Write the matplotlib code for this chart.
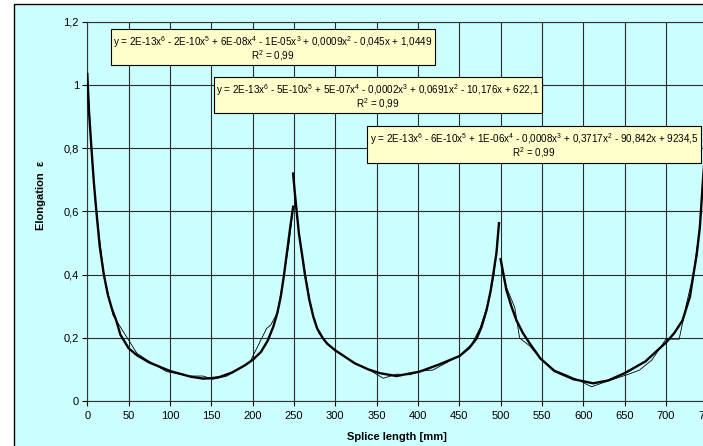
import matplotlib
matplotlib.use("Agg")
import matplotlib.pyplot as plt
from matplotlib.patches import Rectangle

plt.rcParams['font.family'] = ['Liberation Sans', 'DejaVu Sans']
plt.rcParams['mathtext.default'] = 'regular'

# ---- data ----
# measured (thin) curves, three segments
raw1_x = [0, 5, 10, 20, 31, 60, 75, 96, 124, 140, 152, 169, 197, 217, 222, 230, 238, 244, 249]
raw1_y = [1.03, 0.80, 0.62, 0.40, 0.272, 0.151, 0.125, 0.093, 0.079, 0.079, 0.069, 0.079,
          0.125, 0.23, 0.241, 0.28, 0.40, 0.50, 0.615]
raw2_x = [249, 253, 256, 260, 264, 269, 274, 280, 290, 300, 310, 324, 340, 358, 374, 390,
          405, 418, 435, 450, 465, 475, 485, 492, 498]
raw2_y = [0.72, 0.60, 0.53, 0.46, 0.40, 0.32, 0.265, 0.215, 0.182, 0.16, 0.143, 0.119, 0.10,
          0.072, 0.085, 0.083, 0.095, 0.098, 0.122, 0.143, 0.18, 0.23, 0.31, 0.40, 0.563]
raw3_x = [500, 507, 517, 523, 535, 548, 565, 580, 595, 610, 624, 640, 655, 668, 683, 700,
          716, 725, 733, 741, 744.5, 750]
raw3_y = [0.45, 0.36, 0.297, 0.199, 0.175, 0.135, 0.098, 0.082, 0.065, 0.045, 0.058, 0.072,
          0.085, 0.098, 0.13, 0.196, 0.196, 0.31, 0.40, 0.55, 0.69, 0.90]

# polynomial trend lines (thick)
fit1_x = [0, 2, 5, 8, 11, 15, 20, 25, 30, 35, 40, 50, 60, 75, 100, 125, 140, 150, 160, 175,
          190, 200, 210, 218, 225, 230, 234, 238, 242, 246, 249]
fit1_y = [1.035, 0.92, 0.80, 0.69, 0.60, 0.49, 0.40, 0.335, 0.29, 0.255, 0.21, 0.167, 0.145,
          0.122, 0.095, 0.077, 0.071, 0.072, 0.076, 0.09, 0.112, 0.13, 0.155, 0.19, 0.235,
          0.28, 0.33, 0.40, 0.48, 0.56, 0.615]
fit2_x = [249, 251, 253.3, 256, 260, 263.3, 268.6, 273.4, 278, 284.7, 290, 299.6, 310, 323.8,
          340, 354, 374, 402, 425, 450, 462, 471, 477, 483, 488, 491, 495, 498]
fit2_y = [0.72, 0.66, 0.60, 0.53, 0.46, 0.40, 0.32, 0.267, 0.23, 0.20, 0.182, 0.161, 0.143,
          0.119, 0.10, 0.088, 0.079, 0.093, 0.115, 0.142, 0.168, 0.198, 0.235, 0.288, 0.35,
          0.40, 0.47, 0.563]
fit3_x = [500, 507, 513, 519, 527, 535, 548, 565, 588, 612, 630, 650, 675, 700, 710, 720,
          729, 733, 737, 741, 744.5, 747, 750]
fit3_y = [0.449, 0.351, 0.30, 0.256, 0.215, 0.183, 0.135, 0.095, 0.069, 0.056, 0.065, 0.088,
          0.125, 0.185, 0.215, 0.255, 0.33, 0.397, 0.46, 0.55, 0.69, 0.78, 0.90]

eq1 = r'y = 2E-13x$^{6}$ - 2E-10x$^{5}$ + 6E-08x$^{4}$ - 1E-05x$^{3}$ + 0,0009x$^{2}$ - 0,045x + 1,0449'
eq2 = r'y = 2E-13x$^{6}$ - 5E-10x$^{5}$ + 5E-07x$^{4}$ - 0,0002x$^{3}$ + 0,0691x$^{2}$ - 10,176x + 622,1'
eq3 = r'y = 2E-13x$^{6}$ - 6E-10x$^{5}$ + 1E-06x$^{4}$ - 0,0008x$^{3}$ + 0,3717x$^{2}$ - 90,842x + 9234,5'
r2_label = r'R$^{2}$ = 0,99'

x_ticks = list(range(0, 751, 50))
y_ticks = [0, 0.2, 0.4, 0.6, 0.8, 1.0, 1.2]
y_tick_labels = ['0', '0,2', '0,4', '0,6', '0,8', '1', '1,2']

# ---- figure ----
W, H = 703, 446
fig = plt.figure(figsize=(W / 100, H / 100), dpi=100, facecolor='white')

def fx(px):
    return px / W

def fy(py):
    return 1 - py / H

cyan = '#CCFFFF'
bg = Rectangle((fx(14), fy(520)), fx(800), (520 - 4) / H, transform=fig.transFigure,
               facecolor=cyan, edgecolor='black', linewidth=1.0, zorder=-5)
fig.patches.append(bg)

ax = fig.add_axes([87.3 / W, (H - 401) / H, (707.3 - 87.3) / W, (401 - 22) / H])
ax.set_zorder(1)
ax.set_facecolor(cyan)
ax.set_xlim(0, 750)
ax.set_ylim(0, 1.2)
ax.set_xticks(x_ticks)
ax.set_xticklabels([str(v) for v in x_ticks])
ax.set_yticks(y_ticks)
ax.set_yticklabels(y_tick_labels)
ax.tick_params(axis='both', direction='out', length=3.5, width=0.8, labelsize=8,
               colors='black', pad=2.5)
ax.tick_params(axis='x', pad=4)
ax.grid(True, color='#2a2a2a', linewidth=0.8)
ax.set_axisbelow(True)
for s in ax.spines.values():
    s.set_color('#333333')
    s.set_linewidth(0.8)

for xs, ys in [(raw1_x, raw1_y), (raw2_x, raw2_y), (raw3_x, raw3_y)]:
    ax.plot(xs, ys, color='black', linewidth=0.6, zorder=3)
for xs, ys in [(fit1_x, fit1_y), (fit2_x, fit2_y), (fit3_x, fit3_y)]:
    ax.plot(xs, ys, color='black', linewidth=1.7, zorder=4, solid_joinstyle='round')

# equation boxes (drawn on an overlay axes above the plot)
ov = fig.add_axes([0, 0, 1, 1])
ov.set_zorder(5)
ov.set_xlim(0, W)
ov.set_ylim(H, 0)
ov.axis('off')
ov.patch.set_alpha(0)
boxes = [((111, 29, 435, 65), eq1), ((214, 77, 542, 113), eq2), ((367, 126, 701, 163), eq3)]
for (x0, y0, x1, y1), eq in boxes:
    ov.add_patch(Rectangle((x0, y0), x1 - x0, y1 - y0, facecolor='#FFFFCC',
                           edgecolor='black', linewidth=0.8))
    cx = (x0 + x1) / 2
    ov.text(cx, y0 + 13, eq, ha='center', va='center', fontsize=7.1)
    ov.text(cx, y0 + 27, r2_label, ha='center', va='center', fontsize=7.1)

fig.text(fx(41), fy(195), 'Elongation  ε', rotation=90, ha='center', va='center',
         fontsize=8, fontweight='bold')
fig.text(fx(397), fy(436.5), 'Splice length [mm]', ha='center', va='center',
         fontsize=8, fontweight='bold')

fig.savefig('out.png', dpi=100, facecolor=fig.get_facecolor())
